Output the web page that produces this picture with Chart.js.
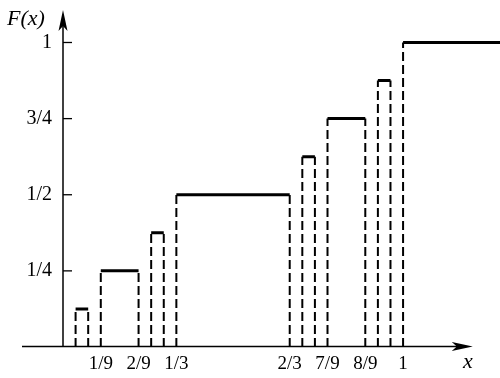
<!DOCTYPE html>
<html>
<head>
<meta charset="utf-8">
<script src="https://cdn.jsdelivr.net/npm/chart.js@4.4.1/dist/chart.umd.min.js"></script>
<style>
  html, body { margin: 0; padding: 0; background: #fff; }
  #wrap { width: 500px; height: 378px; }
</style>
</head>
<body>
<div id="wrap"><canvas id="c" width="500" height="378"></canvas></div>
<script>
// Cantor-like staircase: flat pieces
const levels    = [1/8, 1/4, 3/8, 1/2, 5/8, 3/4, 7/8, 1];
const segStart  = [1/27, 1/9, 7/27, 1/3, 19/27, 7/9, 25/27, 1];
const segEnd    = [2/27, 2/9, 8/27, 2/3, 20/27, 8/9, 26/27, 1.3];
// Tick values and labels
const xTickVals   = [1/9, 2/9, 1/3, 2/3, 7/9, 8/9, 1];
const xTickLabels = ['1/9', '2/9', '1/3', '2/3', '7/9', '8/9', '1'];
const yTickVals   = [0.25, 0.5, 0.75, 1];
const yTickLabels = ['1/4', '1/2', '3/4', '1'];

const X_MAX = 1.285, Y_MAX = 1.1067;

const segPts = [];
const dashPts = [];
levels.forEach((l, i) => {
  segPts.push({x: segStart[i], y: l}, {x: segEnd[i], y: l}, {x: segEnd[i], y: null});
  dashPts.push({x: segStart[i], y: 0}, {x: segStart[i], y: l}, {x: segStart[i], y: null});
  if (i < levels.length - 1) {
    dashPts.push({x: segEnd[i], y: 0}, {x: segEnd[i], y: l}, {x: segEnd[i], y: null});
  }
});

const FONT = 'Liberation Serif, Times New Roman, serif';

const axesPlugin = {
  id: 'axesArrows',
  afterDatasetsDraw(chart) {
    const ctx = chart.ctx;
    const xs = chart.scales.x, ys = chart.scales.y;
    const x0 = xs.getPixelForValue(0), y0 = ys.getPixelForValue(0) - 0.5;
    const xLeft = x0 - 41;
    const xTip = xs.getPixelForValue(1.205);
    const yTip = chart.chartArea.top;
    ctx.save();
    ctx.strokeStyle = '#000';
    ctx.fillStyle = '#000';
    ctx.lineWidth = 1.5;
    ctx.setLineDash([]);
    // x axis
    ctx.beginPath();
    ctx.moveTo(xLeft, y0);
    ctx.lineTo(xTip - 10, y0);
    ctx.stroke();
    ctx.beginPath();
    ctx.moveTo(xTip, y0);
    ctx.lineTo(xTip - 21, y0 - 4.5);
    ctx.lineTo(xTip - 16, y0);
    ctx.lineTo(xTip - 21, y0 + 4.5);
    ctx.closePath();
    ctx.fill();
    // y axis
    ctx.beginPath();
    ctx.moveTo(x0, y0);
    ctx.lineTo(x0, yTip + 10);
    ctx.stroke();
    ctx.beginPath();
    ctx.moveTo(x0, yTip);
    ctx.lineTo(x0 - 4.5, yTip + 21);
    ctx.lineTo(x0, yTip + 16);
    ctx.lineTo(x0 + 4.5, yTip + 21);
    ctx.closePath();
    ctx.fill();
    // inward y tick marks
    ctx.lineWidth = 1.3;
    yTickVals.forEach(v => {
      const p = ys.getPixelForValue(v);
      ctx.beginPath();
      ctx.moveTo(x0, p);
      ctx.lineTo(x0 + 9, p);
      ctx.stroke();
    });
    // axis names
    ctx.font = 'italic 22px ' + FONT;
    ctx.textBaseline = 'middle';
    ctx.textAlign = 'left';
    ctx.fillText('F(x)', 7, 19);
    ctx.textAlign = 'center';
    ctx.fillText('x', 468, 362);
    ctx.restore();
  }
};

new Chart(document.getElementById('c'), {
  type: 'line',
  plugins: [axesPlugin],
  data: {
    datasets: [
      {
        data: segPts,
        borderColor: '#000',
        borderWidth: 3,
        pointRadius: 0,
        spanGaps: false,
        borderCapStyle: 'butt',
        tension: 0
      },
      {
        data: dashPts,
        borderColor: '#000',
        borderWidth: 2,
        borderDash: [9, 4],
        pointRadius: 0,
        spanGaps: false,
        tension: 0
      }
    ]
  },
  options: {
    responsive: false,
    animation: false,
    devicePixelRatio: 1,
    layout: { padding: { top: 10, left: 0, right: 0, bottom: 0 } },
    plugins: { legend: { display: false }, tooltip: { enabled: false } },
    scales: {
      x: {
        type: 'linear',
        min: 0,
        max: X_MAX,
        grid: { display: false, drawTicks: false },
        border: { display: false },
        afterBuildTicks: s => { s.ticks = xTickVals.map(v => ({ value: v })); },
        afterFit: s => { s.height = 31; s.paddingLeft = 0; s.paddingRight = 0; },
        ticks: {
          autoSkip: false,
          maxRotation: 0,
          padding: 6,
          color: '#000',
          font: { family: FONT, size: 19 },
          callback: (v, i) => xTickLabels[i]
        }
      },
      y: {
        type: 'linear',
        min: 0,
        max: Y_MAX,
        grid: { display: false, drawTicks: false },
        border: { display: false },
        afterBuildTicks: s => { s.ticks = yTickVals.map(v => ({ value: v })); },
        afterFit: s => { s.width = 63; s.paddingTop = 0; s.paddingBottom = 0; },
        ticks: {
          autoSkip: false,
          padding: 11,
          color: '#000',
          font: { family: FONT, size: 20 },
          callback: (v, i) => yTickLabels[i]
        }
      }
    }
  }
});
</script>
</body>
</html>
